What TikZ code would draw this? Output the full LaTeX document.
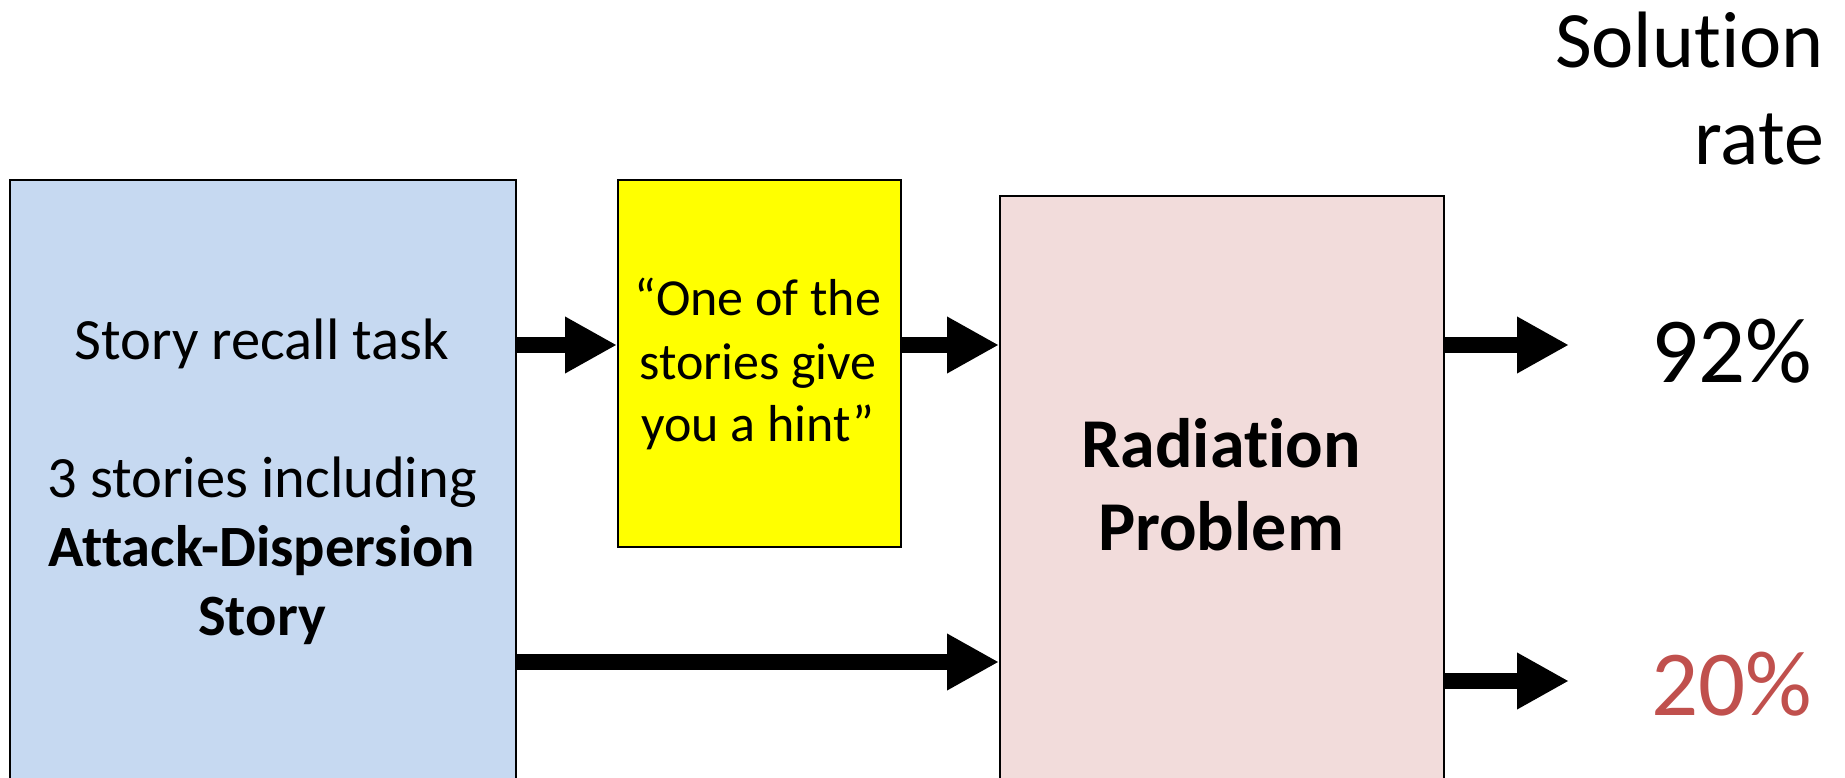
\documentclass[tikz,border=0pt]{standalone}
\usepackage{fontspec}
\setmainfont{Carlito}[Ligatures=NoCommon]
\usetikzlibrary{arrows.meta}
\definecolor{boxblue}{HTML}{C6D9F1}
\definecolor{boxpink}{HTML}{F2DCDB}
\definecolor{boxyellow}{HTML}{FFFF00}
\definecolor{ratered}{HTML}{C0504D}
\begin{document}
\begin{tikzpicture}[x=1pt,y=-1pt,
  panel/.style={draw=black, line width=1.6pt, anchor=north west, inner sep=0pt},
  flow/.style={line width=16pt, -{Triangle[length=52pt,width=53pt]}},
  lbl/.style={inner sep=0pt, align=center, anchor=base},
  rlbl/.style={inner sep=0pt, anchor=base east}]
\useasboundingbox (0,0) rectangle (1845,778);
% boxes
\node[panel, fill=boxblue, minimum width=506pt, minimum height=640pt] (recall) at (9,179) {};
\node[panel, fill=boxyellow, minimum width=283pt, minimum height=367pt] (hint) at (617,179) {};
\node[panel, fill=boxpink, minimum width=444pt, minimum height=620pt] (problem) at (999,195) {};
% texts
\node[lbl, font=\fontsize{58.5pt}{69pt}\selectfont] (t1) at (262,359) {Story recall task};
\node[lbl, font=\fontsize{58.5pt}{69pt}\selectfont] (t2) at (262,497) {3 stories including};
\node[lbl, font=\fontsize{58.5pt}{69pt}\selectfont\bfseries] (t3) at (262,566) {Attack-Dispersion};
\node[lbl, font=\fontsize{58.5pt}{69pt}\selectfont\bfseries] (t4) at (262,635) {Story};
\node[lbl, font=\fontsize{52pt}{63pt}\selectfont] (h1) at (758,315) {“One of the};
\node[lbl, font=\fontsize{52pt}{63pt}\selectfont] (h2) at (758,379) {stories give};
\node[lbl, font=\fontsize{52pt}{63pt}\selectfont] (h3) at (758,441) {you a hint”};
\node[lbl, font=\fontsize{70pt}{83pt}\selectfont\bfseries] (p1) at (1221,467) {Radiation};
\node[lbl, font=\fontsize{70pt}{83pt}\selectfont\bfseries] (p2) at (1221,550) {Problem};
\node[rlbl, font=\fontsize{80pt}{96pt}\selectfont] (s1) at (1824,68) {Solution};
\node[rlbl, font=\fontsize{80pt}{96pt}\selectfont] (s2) at (1824,165) {rate};
\node[rlbl, font=\fontsize{93pt}{110pt}\selectfont] (r1) at (1812,382) {92\%};
\node[rlbl, font=\fontsize{93pt}{110pt}\selectfont, text=ratered] (r2) at (1812,715) {20\%};
% arrow ends
\coordinate (e1) at (1569,345);
\coordinate (e2) at (1569,681);
% connectors
\draw[flow] (recall.east |- 0,345) -- (hint.west |- 0,345);
\draw[flow] (hint.east |- 0,345) -- (problem.west |- 0,345);
\draw[flow] (recall.east |- 0,662) -- (problem.west |- 0,662);
\draw[flow] (problem.east |- e1) -- (e1);
\draw[flow] (problem.east |- e2) -- (e2);
\end{tikzpicture}
\end{document}
